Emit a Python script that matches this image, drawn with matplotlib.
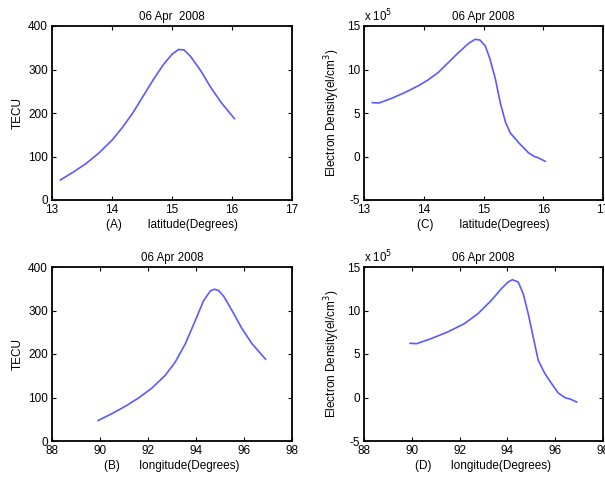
import numpy as np
import matplotlib.pyplot as plt
from matplotlib.ticker import FuncFormatter

plt.rcParams['font.family'] = ['Liberation Sans', 'DejaVu Sans']
plt.rcParams['font.size'] = 8.5

# TEC a lo largo de la traza (latitud / longitud)
lat_tec = [13.14, 13.34, 13.56, 13.79, 14.01, 14.18, 14.35, 14.52, 14.69, 14.86, 15.0,
           15.11, 15.2, 15.31, 15.48, 15.65, 15.82, 16.04]
tec_lat = [46, 63, 83, 109, 139, 168, 201, 239, 277, 312, 335,
           346, 345, 330, 297, 258, 224, 187]

lon_tec = [89.92, 90.5, 91.06, 91.61, 92.17, 92.72, 93.14, 93.56, 93.97, 94.32, 94.6,
           94.76, 94.94, 95.15, 95.5, 95.92, 96.33, 96.9]
tec_lon = [47, 63, 80, 99, 122, 151, 182, 224, 277, 323, 345,
           349, 346, 333, 300, 258, 224, 188]

# Densidad electronica (el/cm^3)
lat_ne = [13.14, 13.25, 13.45, 13.68, 13.9, 14.07, 14.24, 14.41, 14.58, 14.75, 14.86,
          14.94, 15.03, 15.11, 15.2, 15.28, 15.37, 15.45, 15.6, 15.75, 15.85, 15.92, 16.03]
ne_lat = np.array([6.19, 6.15, 6.65, 7.34, 8.1, 8.79, 9.64, 10.79, 11.94, 13.0, 13.47,
                   13.39, 12.7, 11.17, 8.87, 6.19, 3.9, 2.7, 1.5, 0.45, 0.0, -0.15, -0.55]) * 1e5

lon_ne = [89.93, 90.21, 90.8, 91.5, 92.2, 92.77, 93.33, 93.75, 94.03, 94.21, 94.45,
          94.66, 94.87, 95.08, 95.29, 95.57, 95.85, 96.13, 96.41, 96.62, 96.9]
ne_lon = np.array([6.23, 6.19, 6.76, 7.53, 8.49, 9.64, 11.17, 12.51, 13.28, 13.54, 13.28,
                   11.94, 9.64, 6.95, 4.27, 2.74, 1.59, 0.52, -0.02, -0.17, -0.52]) * 1e5

azul = '#5a5aff'

fig = plt.figure(figsize=(6.05, 4.79), dpi=100)

def caja(ax):
    ax.tick_params(direction='in', top=True, right=True, length=3, width=0.8, pad=3)
    for s in ax.spines.values():
        s.set_linewidth(1.3)

def escala_1e5(ax):
    ax.set_ylim(-5e5, 15e5)
    ax.set_yticks(np.arange(-5, 16, 5) * 1e5)
    ax.yaxis.set_major_formatter(FuncFormatter(lambda v, p: '%g' % (v / 1e5)))
    ax.text(0, 1.01, 'x 10$^5$', transform=ax.transAxes, ha='left', va='bottom', fontsize=8.3)

# (A)
ax1 = fig.add_axes([52/605, 1 - 200/479, 240/605, 174/479])
ax1.plot(lat_tec, tec_lat, color=azul, lw=1.2)
ax1.set_xlim(13, 17)
ax1.set_ylim(0, 400)
ax1.set_xticks([13, 14, 15, 16, 17])
ax1.set_yticks([0, 100, 200, 300, 400])
ax1.set_title('06 Apr  2008', fontsize=8.3, pad=4)
ax1.set_xlabel('(A)        latitude(Degrees)', labelpad=2)
ax1.set_ylabel('TECU', labelpad=3)
caja(ax1)

# (C)
ax2 = fig.add_axes([364/605, 1 - 200/479, 239/605, 174/479])
ax2.plot(lat_ne, ne_lat, color=azul, lw=1.2)
ax2.set_xlim(13, 17)
ax2.set_xticks([13, 14, 15, 16, 17])
escala_1e5(ax2)
ax2.set_title('06 Apr 2008', fontsize=8.3, pad=4)
ax2.set_xlabel('(C)        latitude(Degrees)', labelpad=2)
ax2.set_ylabel('Electron Density(el/cm$^3$)', labelpad=3)
caja(ax2)

# (B)
ax3 = fig.add_axes([52/605, 1 - 441/479, 240/605, 174/479])
ax3.plot(lon_tec, tec_lon, color=azul, lw=1.2)
ax3.set_xlim(88, 98)
ax3.set_ylim(0, 400)
ax3.set_xticks(np.arange(88, 99, 2))
ax3.set_yticks([0, 100, 200, 300, 400])
ax3.set_title('06 Apr 2008', fontsize=8.3, pad=4)
ax3.set_xlabel('(B)      longitude(Degrees)', labelpad=2)
ax3.set_ylabel('TECU', labelpad=3)
caja(ax3)

# (D)
ax4 = fig.add_axes([364/605, 1 - 441/479, 239/605, 174/479])
ax4.plot(lon_ne, ne_lon, color=azul, lw=1.2)
ax4.set_xlim(88, 98)
ax4.set_xticks(np.arange(88, 99, 2))
escala_1e5(ax4)
ax4.set_title('06 Apr 2008', fontsize=8.3, pad=4)
ax4.set_xlabel('(D)      longitude(Degrees)', labelpad=2)
ax4.set_ylabel('Electron Density(el/cm$^3$)', labelpad=3)
caja(ax4)

fig.savefig('out.png', dpi=100)
